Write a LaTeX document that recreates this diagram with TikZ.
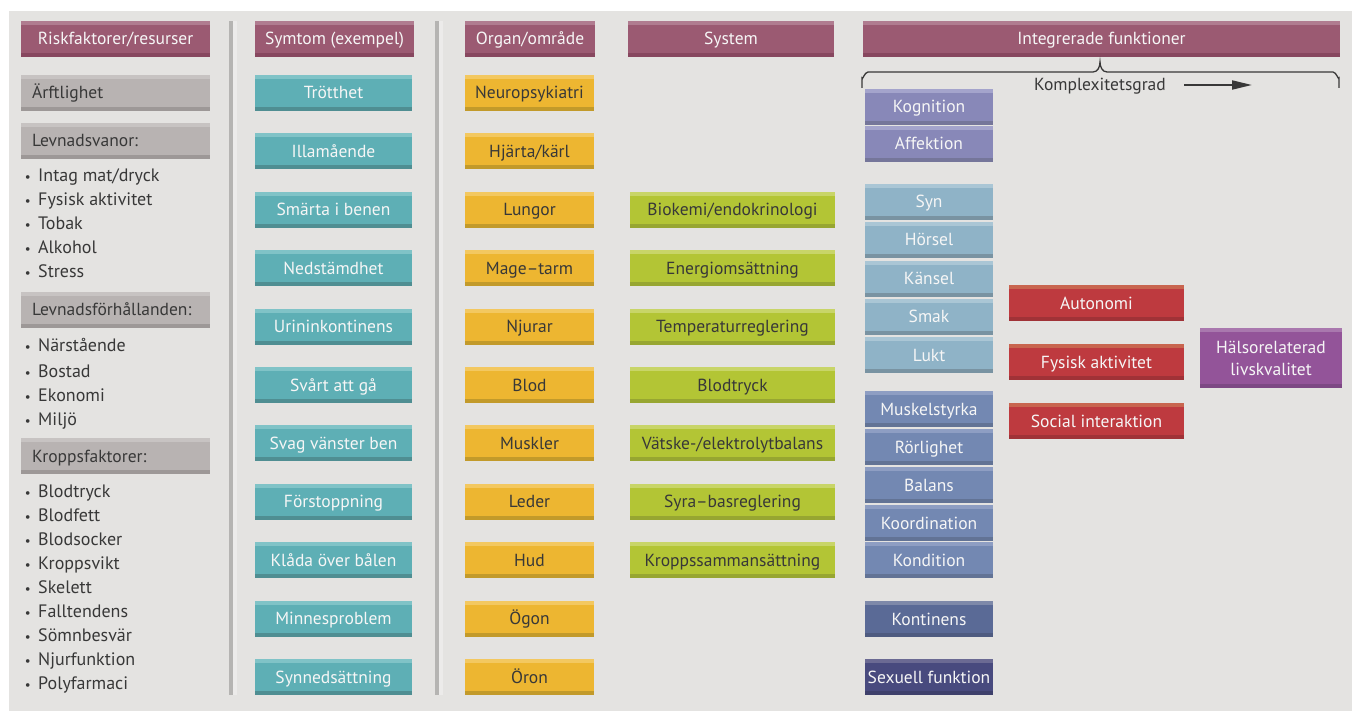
\documentclass[tikz,border=0pt]{standalone}
\usepackage{fontspec}
\setmainfont{PT Sans}
\usetikzlibrary{arrows.meta}
\definecolor{bgc}{HTML}{E4E3E1}
\definecolor{sepc}{HTML}{B5B4B2}
\definecolor{sepl}{HTML}{ECEBEA}
\definecolor{txd}{HTML}{383838}
\definecolor{txw}{HTML}{F6F6F6}
\definecolor{hdrf}{HTML}{9B5A72}\definecolor{hdrt}{HTML}{B07C90}\definecolor{hdrb}{HTML}{87475F}
\definecolor{greyf}{HTML}{B8B3B2}\definecolor{greyt}{HTML}{C7C3C2}\definecolor{greyb}{HTML}{9D9897}
\definecolor{tealf}{HTML}{5EAFB5}\definecolor{tealt}{HTML}{80C3C7}\definecolor{tealb}{HTML}{4F8E92}
\definecolor{yelf}{HTML}{EDB631}\definecolor{yelt}{HTML}{F3C860}\definecolor{yelb}{HTML}{C29A2A}
\definecolor{grnf}{HTML}{B3C535}\definecolor{grnt}{HTML}{C8D568}\definecolor{grnb}{HTML}{97A631}
\definecolor{kogf}{HTML}{8888B8}\definecolor{kogt}{HTML}{A4A4CC}\definecolor{kogb}{HTML}{75769A}
\definecolor{senf}{HTML}{8FB3C7}\definecolor{sent}{HTML}{AAC6D5}\definecolor{senb}{HTML}{7993A2}
\definecolor{motf}{HTML}{7388B2}\definecolor{mott}{HTML}{8E9EC3}\definecolor{motb}{HTML}{627395}
\definecolor{konf}{HTML}{5A6A96}\definecolor{kont}{HTML}{7E89A9}\definecolor{konb}{HTML}{4E5B80}
\definecolor{sexf}{HTML}{484A7E}\definecolor{sext}{HTML}{6B6A93}\definecolor{sexb}{HTML}{3E406B}
\definecolor{redf}{HTML}{BE3A3F}\definecolor{redt}{HTML}{C8654F}\definecolor{redb}{HTML}{A03237}
\definecolor{purf}{HTML}{935499}\definecolor{purt}{HTML}{A978AE}\definecolor{purb}{HTML}{7D4884}
\tikzset{
  x=1pt,y=-1pt,
  bx/.style n args={4}{draw=none, fill=#1, text=#4, minimum height=36pt, inner sep=0pt, outer sep=0pt,
    text height=14pt, text depth=2pt,
    font=\fontsize{17.5}{20}\selectfont,
    path picture={\fill[#2] (path picture bounding box.north west) rectangle ([yshift=-4pt]path picture bounding box.north east);
                  \fill[#3] (path picture bounding box.south west) rectangle ([yshift=4pt]path picture bounding box.south east);}},
  hdr/.style={bx={hdrf}{hdrt}{hdrb}{txw}},
  grey/.style={bx={greyf}{greyt}{greyb}{txd}, minimum width=189pt},
  sym/.style={bx={tealf}{tealt}{tealb}{txw}, minimum width=157pt},
  org/.style={bx={yelf}{yelt}{yelb}{txd}, minimum width=129pt},
  sys/.style={bx={grnf}{grnt}{grnb}{txd}, minimum width=205pt},
  kog/.style={bx={kogf}{kogt}{kogb}{txw}, minimum width=128pt},
  sen/.style={bx={senf}{sent}{senb}{txw}, minimum width=128pt},
  mot/.style={bx={motf}{mott}{motb}{txw}, minimum width=128pt},
  kon/.style={bx={konf}{kont}{konb}{txw}, minimum width=128pt},
  sex/.style={bx={sexf}{sext}{sexb}{txw}, minimum width=128pt},
  red/.style={bx={redf}{redt}{redb}{txw}, minimum width=175pt},
  pur/.style={bx={purf}{purt}{purb}{txw}, text height=, text depth=, minimum width=142pt, minimum height=60pt, align=center, font=\fontsize{17.5}{22}\selectfont},
  lbl/.style={anchor=base west, inner sep=0pt, text=txd, font=\fontsize{17.5}{20}\selectfont},
  bul/.style={anchor=base west, inner sep=0pt, text=txd, font=\fontsize{18}{20}\selectfont,
    label={[text=txd, inner sep=0pt, anchor=base east, font=\fontsize{13}{14}\selectfont]base west:•\hspace*{7pt}}},
}
\begin{document}
\begin{tikzpicture}
\useasboundingbox (0,0) rectangle (1352,711);
\fill[white] (0,0) rectangle (1352,711);
\fill[bgc] (9,11) rectangle (1352,711);
% separators
\fill[sepc] (229,21) rectangle (233,695);
\fill[sepl] (233,21) rectangle (237,695);
\fill[sepc] (435,21) rectangle (439,695);
\fill[sepl] (439,21) rectangle (443,695);
% headers
\node[hdr, minimum width=189pt] (h1) at (115.5,39) {Riskfaktorer/resurser};
\node[hdr, minimum width=159pt] (h2) at (334.5,39) {Symtom (exempel)};
\node[hdr, minimum width=130pt] (h3) at (530,39) {Organ/område};
\node[hdr, minimum width=206pt] (h4) at (731,39) {System};
\node[hdr, minimum width=477pt] (h5) at (1101.5,39) {Integrerade funktioner};
% left column
\node[grey] (g1) at (115.5,93) {};
\node[lbl] (g1t) at (32,99) {Ärftlighet};
\node[grey] (g2) at (115.5,141) {};
\node[lbl] (g2t) at (32,147) {Levnadsvanor:};
\node[bul] (b1) at (38,182) {Intag mat/dryck};
\node[bul] (b2) at (38,206) {Fysisk aktivitet};
\node[bul] (b3) at (38,230) {Tobak};
\node[bul] (b4) at (38,254) {Alkohol};
\node[bul] (b5) at (38,278) {Stress};
\node[grey] (g3) at (115.5,310) {};
\node[lbl] (g3t) at (32,316) {Levnadsförhållanden:};
\node[bul] (c1) at (38,352) {Närstående};
\node[bul] (c2) at (38,377) {Bostad};
\node[bul] (c3) at (38,401) {Ekonomi};
\node[bul] (c4) at (38,425) {Miljö};
\node[grey] (g4) at (115.5,456) {};
\node[lbl] (g4t) at (32,462) {Kroppsfaktorer:};
\node[bul] (d1) at (38,497) {Blodtryck};
\node[bul] (d2) at (38,521) {Blodfett};
\node[bul] (d3) at (38,545) {Blodsocker};
\node[bul] (d4) at (38,569) {Kroppsvikt};
\node[bul] (d5) at (38,593) {Skelett};
\node[bul] (d6) at (38,617) {Falltendens};
\node[bul] (d7) at (38,641) {Sömnbesvär};
\node[bul] (d8) at (38,665) {Njurfunktion};
\node[bul] (d9) at (38,689) {Polyfarmaci};
% symptoms
\node[sym] (s1) at (333.5,93) {Trötthet};
\node[sym] (s2) at (333.5,151.4) {Illamående};
\node[sym] (s3) at (333.5,209.8) {Smärta i benen};
\node[sym] (s4) at (333.5,268.2) {Nedstämdhet};
\node[sym] (s5) at (333.5,326.6) {Urininkontinens};
\node[sym] (s6) at (333.5,385) {Svårt att gå};
\node[sym] (s7) at (333.5,443.4) {Svag vänster ben};
\node[sym] (s8) at (333.5,501.8) {Förstoppning};
\node[sym] (s9) at (333.5,560.2) {Klåda över bålen};
\node[sym] (s10) at (333.5,618.6) {Minnesproblem};
\node[sym] (s11) at (333.5,677) {Synnedsättning};
% organs
\node[org] (o1) at (529.5,93) {Neuropsykiatri};
\node[org] (o2) at (529.5,151.4) {Hjärta/kärl};
\node[org] (o3) at (529.5,209.8) {Lungor};
\node[org] (o4) at (529.5,268.2) {Mage–tarm};
\node[org] (o5) at (529.5,326.6) {Njurar};
\node[org] (o6) at (529.5,385) {Blod};
\node[org] (o7) at (529.5,443.4) {Muskler};
\node[org] (o8) at (529.5,501.8) {Leder};
\node[org] (o9) at (529.5,560.2) {Hud};
\node[org] (o10) at (529.5,618.6) {Ögon};
\node[org] (o11) at (529.5,677) {Öron};
% systems
\node[sys] (y1) at (732.5,209.8) {Biokemi/endokrinologi};
\node[sys] (y2) at (732.5,268.2) {Energiomsättning};
\node[sys] (y3) at (732.5,326.6) {Temperaturreglering};
\node[sys] (y4) at (732.5,385) {Blodtryck};
\node[sys] (y5) at (732.5,443.4) {Vätske-/elektrolytbalans};
\node[sys] (y6) at (732.5,501.8) {Syra–basreglering};
\node[sys] (y7) at (732.5,560.2) {Kroppssammansättning};
% integrated functions
\node[kog] (f1) at (929,107) {Kognition};
\node[kog] (f2) at (929,144) {Affektion};
\node[sen] (f3) at (929,202) {Syn};
\node[sen] (f4) at (929,240) {Hörsel};
\node[sen] (f5) at (929,279) {Känsel};
\node[sen] (f6) at (929,317) {Smak};
\node[sen] (f7) at (929,355) {Lukt};
\node[mot] (f8) at (929,409) {Muskelstyrka};
\node[mot] (f9) at (929,447) {Rörlighet};
\node[mot] (f10) at (929,485) {Balans};
\node[mot] (f11) at (929,523) {Koordination};
\node[mot] (f12) at (929,560) {Kondition};
\node[kon] (f13) at (929,619) {Kontinens};
\node[sex] (f14) at (929,677) {Sexuell funktion};
\node[red] (r1) at (1096.5,303) {Autonomi};
\node[red] (r2) at (1096.5,362) {Fysisk aktivitet};
\node[red] (r3) at (1096.5,421) {Social interaktion};
\node[pur] (q) at (1271,358) {Hälsorelaterad\\livskvalitet};
% brace and arrow
\draw[line width=1.3pt, txd] (862,88) -- (862,78) to[out=-90,in=180] (868,72) -- (1093,72)
  to[out=0,in=-90] (1100,62) to[out=-90,in=180] (1107,72) -- (1333,72) to[out=0,in=-90] (1339,78) -- (1339,88);
\node[text=txd, font=\fontsize{17.5}{20}\selectfont, inner sep=0pt] (kx) at (1100,86) {Komplexitetsgrad};
\coordinate (a1) at (1184,85);
\coordinate (a2) at (1252,85);
\draw[line width=2pt, txd, -{Triangle[length=20pt,width=9pt]}] (a1) -- (a2);
\end{tikzpicture}
\end{document}
